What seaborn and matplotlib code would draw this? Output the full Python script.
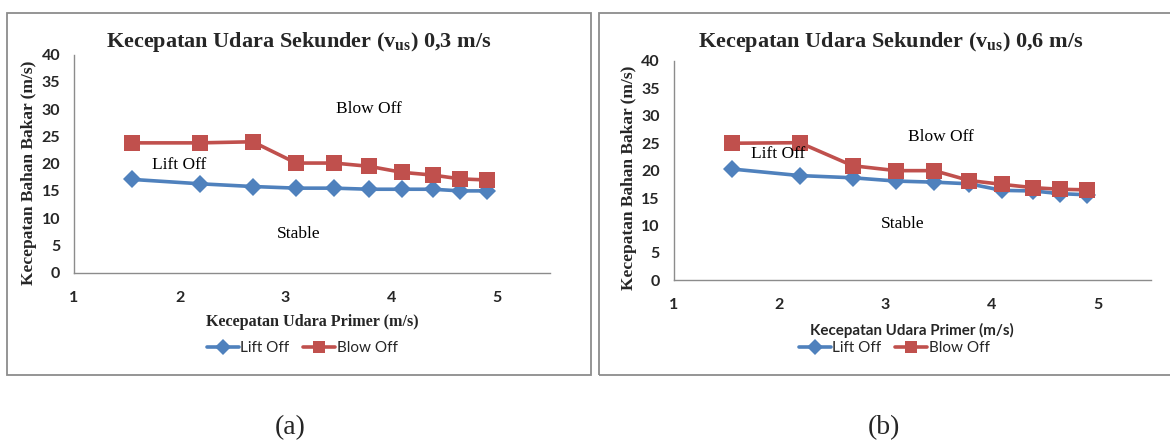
import numpy as np
import pandas as pd
import matplotlib
matplotlib.use("Agg")
import matplotlib.pyplot as plt
from matplotlib.patches import Rectangle
from matplotlib.lines import Line2D
import seaborn as sns

# Primary air velocity (m/s), shared by both tests
v_primer = [1.55, 2.19, 2.69, 3.10, 3.46, 3.79, 4.10, 4.39, 4.65, 4.90]

# Secondary air 0.3 m/s: fuel velocity at lift off / blow off (m/s)
lift_off_03 = [17.1, 16.3, 15.8, 15.5, 15.5, 15.3, 15.3, 15.3, 15.0, 15.0]
blow_off_03 = [23.8, 23.8, 24.0, 20.1, 20.1, 19.5, 18.4, 17.9, 17.2, 17.0]

# Secondary air 0.6 m/s
lift_off_06 = [20.3, 19.1, 18.7, 18.1, 17.9, 17.6, 16.4, 16.3, 15.8, 15.6]
blow_off_06 = [25.0, 25.1, 20.9, 20.0, 20.0, 18.2, 17.5, 16.9, 16.6, 16.5]

series_names = ["Lift Off", "Blow Off"]
panel_titles = [r"Kecepatan Udara Sekunder (v$_{\mathbf{us}}$) 0,3 m/s",
                r"Kecepatan Udara Sekunder (v$_{\mathbf{us}}$) 0,6 m/s"]
captions = ["(a)", "(b)"]
x_ticks = [1, 2, 3, 4, 5]
y_ticks = [0, 5, 10, 15, 20, 25, 30, 35, 40]

BLUE = "#4F81BD"
RED = "#C0504D"
SERIF = "Liberation Serif"
SANS = "Lato"

sns.set_theme(style="white")
plt.rcParams["mathtext.fontset"] = "custom"
plt.rcParams["mathtext.rm"] = "Liberation Serif:bold"
plt.rcParams["mathtext.bf"] = "Liberation Serif:bold"

W, H = 1170, 441
fig = plt.figure(figsize=(W / 100, H / 100), dpi=100)
fig.patch.set_facecolor("white")


def fx(px):
    return px / W


def fy(py):
    return 1 - py / H


def make_frame(lift, blow):
    return pd.DataFrame({
        "x": v_primer * 2,
        "y": list(lift) + list(blow),
        "seri": [series_names[0]] * len(lift) + [series_names[1]] * len(blow),
    })


panels = [
    dict(lift=lift_off_03, blow=blow_off_03, box=(6.8, 12.7, 591, 375),
         ax=(74, 54.5, 550, 272.7), title_xy=(299, 41.7),
         ylab_xy=(29.5, 173), xlab_xy=(312, 321.7), xlab_font=SERIF,
         xlab_size=11.6, leg_xy=(302, 348.3), cap_xy=(290, 428),
         notes=[("Blow Off", 3.79, 30.1), ("Lift Off", 1.99, 19.8),
                ("Stable", 3.12, 7.1)]),
    dict(lift=lift_off_06, blow=blow_off_06, box=(599, 12.7, 1185, 375),
         ax=(673.5, 61, 1150.5, 280.3), title_xy=(891, 41.7),
         ylab_xy=(628.8, 177.5), xlab_xy=(911.5, 330), xlab_font=SANS,
         xlab_size=10.9, leg_xy=(894, 348.3), cap_xy=(884, 428),
         notes=[("Blow Off", 3.52, 26.1), ("Lift Off", 1.985, 23.1),
                ("Stable", 3.165, 10.3)]),
]

for i, p in enumerate(panels):
    x0, y0, x1, y1 = p["box"]
    fig.patches.append(Rectangle((fx(x0), fy(y1)), fx(x1 - x0), (y1 - y0) / H,
                                 transform=fig.transFigure, fill=False,
                                 edgecolor="#8c8c8c", linewidth=1.3))

    ax0, ay0, ax1, ay1 = p["ax"]
    ax = fig.add_axes([fx(ax0), fy(ay1), fx(ax1 - ax0), (ay1 - ay0) / H])
    ax.set_facecolor("none")

    df = make_frame(p["lift"], p["blow"])
    sns.lineplot(data=df, x="x", y="y", hue="seri", style="seri",
                 palette={series_names[0]: BLUE, series_names[1]: RED},
                 markers={series_names[0]: "D", series_names[1]: "s"},
                 dashes=False, linewidth=2.6, markersize=10,
                 markeredgewidth=0, legend=False, ax=ax, sort=False)
    # square markers are a little larger than the diamonds
    for line in ax.get_lines():
        if line.get_marker() == "s":
            line.set_markersize(11.5)
        else:
            line.set_markersize(9.5)

    ax.set_xlim(1, 5.5)
    ax.set_ylim(0, 40)
    ax.set_xticks(x_ticks)
    ax.set_yticks(y_ticks)
    ax.set_xticklabels([str(t) for t in x_ticks], fontfamily=SANS,
                       fontweight="bold", fontsize=11.5)
    ax.set_yticklabels([str(t) for t in y_ticks], fontfamily=SANS,
                       fontweight="bold", fontsize=11.5)
    ax.tick_params(axis="y", length=0, pad=10)
    ax.tick_params(axis="x", length=0, pad=13)
    ax.set_xlabel("")
    ax.set_ylabel("")
    for side in ("top", "right"):
        ax.spines[side].set_visible(False)
    for side in ("left", "bottom"):
        ax.spines[side].set_color("#8c8c8c")
        ax.spines[side].set_linewidth(1.0)

    for txt, tx, ty in p["notes"]:
        ax.text(tx, ty, txt, ha="center", va="center", fontfamily=SERIF,
                fontsize=12.5, color="black")

    tx, ty = p["title_xy"]
    fig.text(fx(tx), fy(ty), panel_titles[i], ha="center", va="center",
             fontfamily=SERIF, fontweight="bold", fontsize=16)

    lx, ly = p["ylab_xy"]
    fig.text(fx(lx), fy(ly), "Kecepatan Bahan Bakar (m/s)", ha="center",
             va="center", rotation=90, fontfamily=SERIF, fontweight="bold",
             fontsize=12.5)

    xx, xy = p["xlab_xy"]
    fig.text(fx(xx), fy(xy), "Kecepatan Udara Primer (m/s)", ha="center",
             va="center", fontfamily=p["xlab_font"], fontweight="bold",
             fontsize=p["xlab_size"])

    handles = [
        Line2D([], [], color=BLUE, linewidth=2.6, marker="D", markersize=8,
               markeredgewidth=0),
        Line2D([], [], color=RED, linewidth=2.6, marker="s", markersize=9,
               markeredgewidth=0),
    ]
    gx, gy = p["leg_xy"]
    fig.legend(handles, series_names, loc="center",
               bbox_to_anchor=(fx(gx), fy(gy)), ncol=2, frameon=False,
               prop={"family": SANS, "size": 11}, handlelength=2.1,
               handletextpad=0.1, columnspacing=0.9, borderpad=0)

    cx, cy = p["cap_xy"]
    fig.text(fx(cx), fy(cy), captions[i], ha="center", va="center",
             fontfamily=SERIF, fontsize=20)

fig.savefig("out.png", dpi=100, facecolor="white")
